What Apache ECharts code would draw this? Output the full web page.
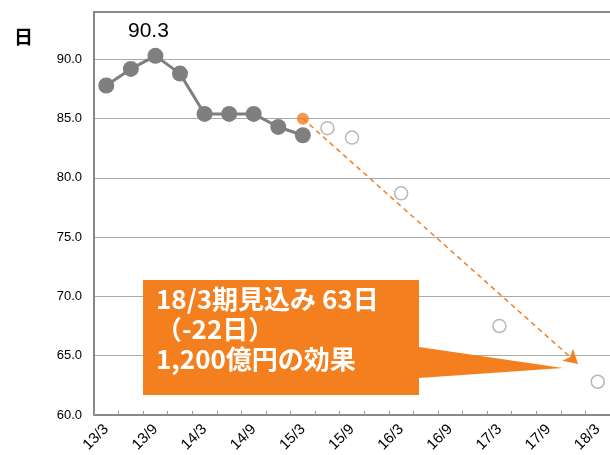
<!DOCTYPE html>
<html>
<head>
<meta charset="utf-8">
<script src="https://cdn.jsdelivr.net/npm/echarts@6/dist/echarts.min.js"></script>
<style>
  html, body { margin: 0; padding: 0; background: #fff; }
  #main { width: 610px; height: 455px; }
</style>
</head>
<body>
<div id="main"></div>
<script>
// 四半期ごとのカテゴリ
var categories = ['13/3', '13/6', '13/9', '13/12', '14/3', '14/6', '14/9', '14/12',
  '15/3', '15/6', '15/9', '15/12', '16/3', '16/6', '16/9', '16/12',
  '17/3', '17/6', '17/9', '17/12', '18/3']
// 実績（日）
var actual = [87.8, 89.2, 90.3, 88.8, 85.4, 85.4, 85.4, 84.3, 83.6,
  '-', '-', '-', '-', '-', '-', '-', '-', '-', '-', '-', '-']
// 15/3 の目標点
var target = ['-', '-', '-', '-', '-', '-', '-', '-', 85.0,
  '-', '-', '-', '-', '-', '-', '-', '-', '-', '-', '-', '-']
// 見込み
var forecast = ['-', '-', '-', '-', '-', '-', '-', '-', '-',
  84.2, 83.4, '-', 78.7, '-', '-', '-', 67.5, '-', '-', '-', 62.8]
// 矢印の始点・終点（カテゴリ位置, 値）
var arrowFrom = [8, 85.0]
var arrowTo = [19.2, 64.3]
var peakIndex = 2
var calloutLines = ['18/3期見込み 63日', '（-22日）', '1,200億円の効果']

var orange = '#f47f1f'
var gray = '#7f7f7f'

var myChart = echarts.init(document.getElementById('main'))

var actualData = actual.map(function(v, i) {
  if (i === peakIndex) {
    return {
      value: v,
      label: {
        show: true, position: 'top', offset: [-7, -1],
        formatter: '{c}', fontSize: 21, color: '#000',
        fontFamily: 'Liberation Sans, Arial, sans-serif'
      }
    }
  }
  return v
})

var option = {
  animation: false,
  title: {
    text: '日',
    left: 9,
    top: 22,
    textStyle: { fontSize: 19, fontWeight: 'bold', color: '#000', fontFamily: 'Noto Sans CJK JP' }
  },
  grid: { left: 94, right: 0, top: 12, bottom: 40 },
  xAxis: [
    {
      type: 'category',
      data: categories,
      boundaryGap: true,
      axisLine: { onZero: false, lineStyle: { color: '#888', width: 2 } },
      axisTick: { show: true, inside: true, length: 4, interval: 0, lineStyle: { color: '#999' } },
      axisLabel: {
        interval: 1, rotate: 45, fontSize: 15, color: '#000', margin: 12,
        fontFamily: 'Liberation Sans, Arial, sans-serif'
      },
      splitLine: { show: false }
    },
    {
      // 矢印用の補助軸（上枠線を兼ねる）
      type: 'value',
      position: 'top',
      min: -0.5,
      max: 20.5,
      axisLine: { show: true, onZero: false, lineStyle: { color: '#888', width: 2 } },
      axisTick: { show: false },
      axisLabel: { show: false },
      splitLine: { show: false }
    }
  ],
  yAxis: {
    type: 'value',
    min: 60,
    max: 94,
    interval: 5,
    axisLine: { show: true, onZero: false, lineStyle: { color: '#888', width: 2 } },
    axisTick: { show: false },
    axisLabel: {
      fontSize: 13, color: '#000', margin: 12,
      fontFamily: 'Liberation Sans, Arial, sans-serif',
      formatter: function(v) { return v > 91 ? '' : v.toFixed(1) }
    },
    splitLine: { lineStyle: { color: '#aaa', width: 1 } }
  },
  series: [
    {
      name: '見込み',
      type: 'scatter',
      data: forecast,
      symbol: 'circle',
      symbolSize: 13,
      itemStyle: { color: '#fff', borderColor: '#a6a6a6', borderWidth: 1.5 },
      z: 3
    },
    {
      name: '矢印',
      type: 'line',
      xAxisIndex: 1,
      data: [],
      markLine: {
        silent: true,
        symbol: ['none', 'arrow'],
        symbolSize: [12, 14],
        label: { show: false },
        lineStyle: { color: orange, type: [5, 4], width: 1.5 },
        data: [[{ coord: arrowFrom }, { coord: arrowTo }]]
      },
      z: 4
    },
    {
      name: '実績',
      type: 'line',
      data: actualData,
      symbol: 'circle',
      symbolSize: 16,
      lineStyle: { color: gray, width: 3 },
      itemStyle: { color: gray },
      z: 5
    },
    {
      name: '目標',
      type: 'scatter',
      data: target,
      symbol: 'circle',
      symbolSize: 12,
      itemStyle: { color: orange },
      z: 6
    }
  ],
  graphic: [
    {
      type: 'polygon',
      z: 100,
      shape: {
        points: [[143, 280], [419, 280], [419, 347], [563, 368], [419, 378], [419, 395], [143, 395]]
      },
      style: { fill: orange }
    },
    {
      type: 'text',
      z: 101,
      left: 156,
      top: 284,
      style: {
        text: calloutLines.join('\n'),
        fill: '#fff',
        fontSize: 26,
        lineHeight: 30,
        fontWeight: 'bold',
        fontFamily: 'Noto Sans CJK JP'
      }
    }
  ]
}

myChart.setOption(option)
</script>
</body>
</html>
